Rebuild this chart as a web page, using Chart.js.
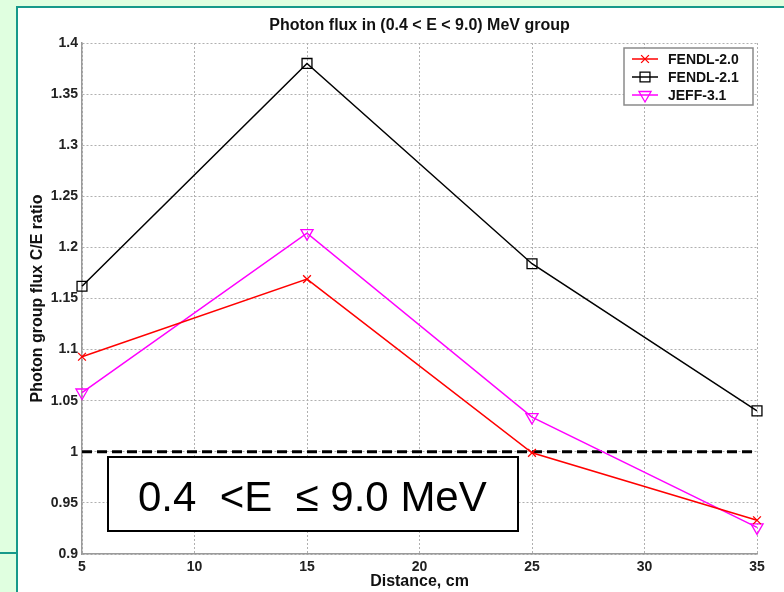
<!DOCTYPE html>
<html>
<head>
<meta charset="utf-8">
<title>Photon flux C/E ratio</title>
<script src="https://cdn.jsdelivr.net/npm/chart.js@4.4.0/dist/chart.umd.min.js"></script>
<style>
    html, body { margin: 0; padding: 0; background: #e0ffe0; }
    #wrap { position: relative; width: 784px; height: 592px; }
</style>
</head>
<body>
<div id="wrap"><canvas id="fluxChart"></canvas></div>
<script>
// Data
const distances = [5, 15, 25, 35];
const fendl20 = [1.093, 1.169, 0.999, 0.933];
const fendl21 = [1.162, 1.380, 1.184, 1.040];
const jeff31 = [1.058, 1.214, 1.034, 0.926];
const refLine = [1, 1];
const refX = [5, 35];
const seriesNames = ['FENDL-2.0', 'FENDL-2.1', 'JEFF-3.1'];
const xTicks = [5, 10, 15, 20, 25, 30, 35];
const yTicks = [0.9, 0.95, 1, 1.05, 1.1, 1.15, 1.2, 1.25, 1.3, 1.35, 1.4];

const boldFont = 'Arial, "Liberation Sans", sans-serif';

function toPoints(xs, ys) {
    return xs.map((x, i) => ({ x: x, y: ys[i] }));
}

// Series styles (MATLAB-like markers)
const styles = [
    { color: '#ff0000', pointStyle: 'crossRot', radius: 5.5, rotation: 0 },
    { color: '#000000', pointStyle: 'rect', radius: 7, rotation: 0 },
    { color: '#ff00ff', pointStyle: 'triangle', radius: 7, rotation: 180 }
];

function makeSeries(i, values) {
    const s = styles[i];
    return {
        label: seriesNames[i],
        data: toPoints(distances, values),
        borderColor: s.color,
        backgroundColor: 'rgba(0,0,0,0)',
        borderWidth: 1.5,
        pointStyle: s.pointStyle,
        pointRadius: s.radius,
        pointRotation: s.rotation,
        pointBorderColor: s.color,
        pointBackgroundColor: 'rgba(0,0,0,0)',
        pointBorderWidth: 1.3,
        tension: 0,
        clip: false
    };
}

// Slide background, legend box and the annotation box
const decorations = {
    id: 'decorations',
    beforeDraw(chart) {
        const ctx = chart.ctx;
        ctx.save();
        ctx.fillStyle = '#e0ffe0';
        ctx.fillRect(0, 0, 784, 592);
        ctx.fillStyle = '#ffffff';
        ctx.fillRect(17, 7, 767, 585);
        ctx.strokeStyle = '#17998a';
        ctx.lineWidth = 2;
        ctx.beginPath();
        ctx.moveTo(16, 7); ctx.lineTo(784, 7);
        ctx.moveTo(17, 6); ctx.lineTo(17, 592);
        ctx.moveTo(0, 553); ctx.lineTo(17, 553);
        ctx.stroke();
        ctx.restore();
    },
    afterDraw(chart) {
        const ctx = chart.ctx;
        ctx.save();
        // legend
        ctx.fillStyle = '#ffffff';
        ctx.fillRect(624, 48, 129, 57);
        ctx.strokeStyle = '#8a8a8a';
        ctx.lineWidth = 1.5;
        ctx.strokeRect(624, 48, 129, 57);
        seriesNames.forEach((name, i) => {
            const y = 59 + i * 18;
            const s = styles[i];
            ctx.strokeStyle = s.color;
            ctx.lineWidth = 1.5;
            ctx.beginPath();
            ctx.moveTo(632, y);
            ctx.lineTo(658, y);
            ctx.stroke();
            ctx.fillStyle = 'rgba(0,0,0,0)';
            ctx.lineWidth = 1.3;
            Chart.helpers.drawPoint(ctx, {
                pointStyle: s.pointStyle,
                radius: s.radius,
                rotation: s.rotation,
                borderWidth: 1.3
            }, 645, y);
            ctx.fillStyle = '#111';
            ctx.font = 'bold 14px ' + boldFont;
            ctx.textAlign = 'left';
            ctx.textBaseline = 'middle';
            ctx.fillText(name, 668, y + 1);
        });
        // energy range box
        ctx.fillStyle = '#ffffff';
        ctx.fillRect(108, 457, 410, 74);
        ctx.strokeStyle = '#000';
        ctx.lineWidth = 2;
        ctx.strokeRect(108, 457, 410, 74);
        ctx.fillStyle = '#000';
        ctx.font = '42px Arial, "Liberation Sans", sans-serif';
        ctx.textAlign = 'left';
        ctx.textBaseline = 'alphabetic';
        ctx.fillText('0.4  <E  \u2264 9.0 MeV', 138, 511);
        ctx.restore();
    }
};

function initChart() {
    const ctx = document.getElementById('fluxChart').getContext('2d');
    new Chart(ctx, {
        type: 'line',
        data: {
            datasets: [
                makeSeries(0, fendl20),
                makeSeries(1, fendl21),
                makeSeries(2, jeff31),
                {
                    label: 'C/E = 1',
                    data: toPoints(refX, refLine),
                    borderColor: '#000',
                    borderWidth: 3,
                    borderDash: [10, 5],
                    pointRadius: 0,
                    fill: false
                }
            ]
        },
        options: {
            responsive: true,
            maintainAspectRatio: false,
            animation: false,
            layout: { padding: { left: 17, top: 7, right: 27, bottom: 0 } },
            scales: {
                x: {
                    type: 'linear',
                    min: 5,
                    max: 35,
                    afterBuildTicks: (scale) => { scale.ticks = xTicks.map(v => ({ value: v })); },
                    afterFit: (scale) => {
                        scale.height = 38;
                        scale.paddingLeft = 0;
                        scale.paddingRight = 0;
                    },
                    grid: { color: '#b0b0b0', lineWidth: 1, drawTicks: false },
                    border: { display: true, color: '#9a9a9a', width: 1.5, dash: [2, 2] },
                    ticks: {
                        color: '#222',
                        padding: 5,
                        maxRotation: 0,
                        font: { family: boldFont, size: 14, weight: 'bold' }
                    },
                    title: {
                        display: true,
                        text: 'Distance, cm',
                        color: '#111',
                        padding: { top: 0, bottom: 1 },
                        font: { family: boldFont, size: 16, weight: 'bold' }
                    }
                },
                y: {
                    min: 0.9,
                    max: 1.4,
                    afterBuildTicks: (scale) => { scale.ticks = yTicks.map(v => ({ value: v })); },
                    afterFit: (scale) => {
                        scale.width = 65;
                        scale.paddingTop = 0;
                        scale.paddingBottom = 0;
                    },
                    grid: { color: '#b0b0b0', lineWidth: 1, drawTicks: false },
                    border: { display: true, color: '#9a9a9a', width: 1.5, dash: [2, 2] },
                    ticks: {
                        color: '#222',
                        padding: 4,
                        font: { family: boldFont, size: 14, weight: 'bold' },
                        callback: (v) => String(Number(v.toFixed(2)))
                    },
                    title: {
                        display: true,
                        text: 'Photon group flux C/E ratio',
                        color: '#111',
                        padding: { top: 11, bottom: 0 },
                        font: { family: boldFont, size: 16, weight: 'bold' }
                    }
                }
            },
            plugins: {
                legend: { display: false },
                tooltip: { enabled: false },
                title: {
                    display: true,
                    fullSize: false,
                    text: 'Photon flux in (0.4 < E < 9.0) MeV group',
                    color: '#111',
                    padding: { top: 9.4, bottom: 7.4 },
                    font: { family: boldFont, size: 16, weight: 'bold' }
                }
            }
        },
        plugins: [decorations]
    });
}

document.addEventListener('DOMContentLoaded', () => {
    initChart();
});
</script>
</body>
</html>
